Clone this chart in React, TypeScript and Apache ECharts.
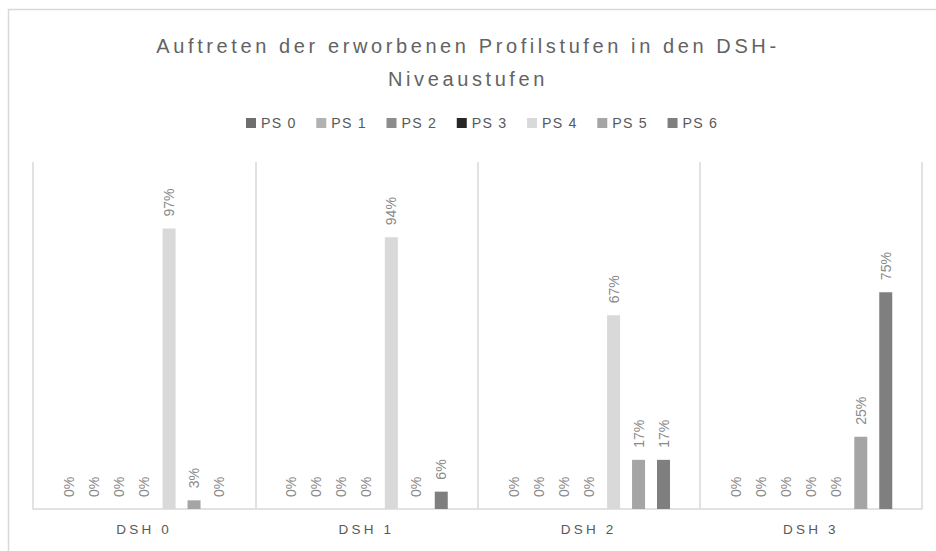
import React, { useEffect, useRef } from "react";
import * as echarts from "echarts";

const categories = ["DSH 0", "DSH 1", "DSH 2", "DSH 3"];
const seriesNames = ["PS 0", "PS 1", "PS 2", "PS 3", "PS 4", "PS 5", "PS 6"];
const ps0 = [0, 0, 0, 0];
const ps1 = [0, 0, 0, 0];
const ps2 = [0, 0, 0, 0];
const ps3 = [0, 0, 0, 0];
const ps4 = [0.97, 0.94, 0.67, 0];
const ps5 = [0.03, 0, 0.17, 0.25];
const ps6 = [0, 0.06, 0.17, 0.75];
const seriesValues = [ps0, ps1, ps2, ps3, ps4, ps5, ps6];
const seriesColors = ["#6e6e6e", "#b2b2b2", "#8c8c8c", "#262626", "#d9d9d9", "#a5a5a5", "#7f7f7f"];
const titleText = "Auftreten der erworbenen Profilstufen in den DSH-\nNiveaustufen";

const FONT = "'Liberation Sans', Arial, sans-serif";

export default function App() {
  const ref = useRef<HTMLDivElement>(null);
  useEffect(() => {
    if (!ref.current) return;
    const chart = echarts.init(ref.current, undefined, { renderer: "svg" });
    const option: any = {
      animation: false,
      backgroundColor: "#ffffff",
      title: {
        text: titleText,
        left: "center",
        top: 24,
        padding: [5, 0, 5, 8],
        textStyle: {
          fontFamily: FONT,
          fontSize: 20,
          fontWeight: "normal",
          color: "#636363",
          lineHeight: 33,
        },
      },
      legend: {
        top: 111,
        left: 241,
        icon: "rect",
        itemWidth: 10,
        itemHeight: 10,
        itemGap: 24.5,
        textStyle: { fontFamily: FONT, fontSize: 14.2, color: "#595959" },
        data: seriesNames,
      },
      graphic: [
        {
          type: "rect",
          shape: { x: 8.5, y: 9.5, width: 1000, height: 600 },
          style: { fill: "none", stroke: "#d9d9d9", lineWidth: 1.5 },
          silent: true,
        },
      ],
      grid: { left: 33, right: 14, top: 162, bottom: 42 },
      xAxis: {
        type: "category",
        data: categories,
        axisLine: { lineStyle: { color: "#d9d9d9", width: 1.5 } },
        axisTick: { show: false },
        splitLine: { show: true, interval: 0, lineStyle: { color: "#d9d9d9", width: 1.5 } },
        axisLabel: { fontFamily: FONT, fontSize: 13.5, color: "#595959", margin: 13 },
      },
      yAxis: {
        type: "value",
        min: 0,
        max: 1.2,
        show: false,
        splitLine: { show: false },
      },
      series: seriesNames.map((name, i) => ({
        name,
        type: "bar",
        data: seriesValues[i],
        barWidth: 13,
        barGap: "92%",
        itemStyle: { color: seriesColors[i] },
        label: {
          show: true,
          position: "top",
          rotate: 90,
          align: "left",
          verticalAlign: "middle",
          distance: 12,
          fontFamily: FONT,
          fontSize: 14,
          color: "#8a8a8a",
          formatter: (p: any) => Math.round(p.value * 100) + "%",
        },
      })),
    };
    chart.setOption(option);
    return () => chart.dispose();
  }, []);
  return (
    <>
      <style>{`
        body { margin: 0; }
        #root svg text[style*="20px"] { letter-spacing: 3.6px; }
        #root svg text[style*="14.2px"] { letter-spacing: 1.2px; }
        #root svg text[style*="13.5px"] { letter-spacing: 3.2px; }
      `}</style>
      <div ref={ref} style={{ width: 936, height: 551, position: "absolute", left: 0, top: 0 }} />
    </>
  );
}
